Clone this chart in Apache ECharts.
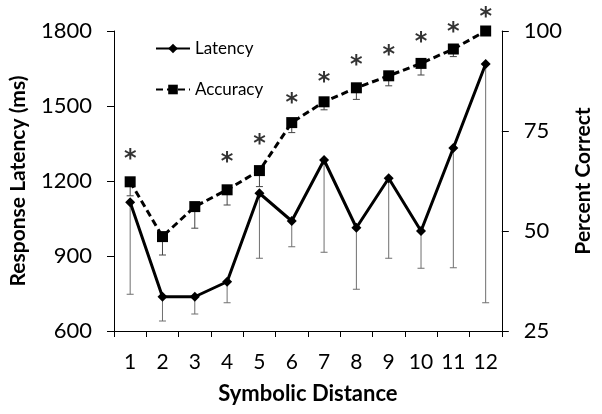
<!DOCTYPE html>
<html>
<head>
<meta charset="utf-8">
<script src="https://cdn.jsdelivr.net/npm/echarts@6/dist/echarts.min.js"></script>
<style>
html,body{margin:0;padding:0;background:#fff;}
#chart{width:602px;height:414px;}
</style>
</head>
<body>
<div id="chart"></div>
<script>
const categories = ['1','2','3','4','5','6','7','8','9','10','11','12'];
const latency = [1115, 737, 737, 797, 1151, 1040, 1284, 1013, 1211, 1000, 1332, 1668];
const latencyLow = [747, 640, 668, 713, 891, 937, 915, 767, 891, 851, 853, 713];
const accuracy = [62.3, 48.6, 56.1, 60.3, 65.1, 77.1, 82.3, 85.8, 88.8, 91.9, 95.5, 100];
const accuracyLow = [58.8, 44.0, 50.7, 56.5, 61.1, 74.6, 80.3, 82.9, 86.3, 89.0, 93.6, 100];
const asteriskAt = [69.8, null, null, 69.0, 73.5, 83.8, 89.0, 93.3, 95.8, 99.0, 101.5, 105.3];
const latencyTicks = [600, 1800, 300];
const accuracyTicks = [25, 100, 25];

const FONT = 'Lato';

function errorBarSeries(name, vals, lows, axisIndex, color) {
  return {
    name: name,
    type: 'custom',
    yAxisIndex: axisIndex,
    z: 1,
    silent: true,
    data: vals.map((v, i) => [i, v, lows[i]]),
    renderItem: function (params, api) {
      const top = api.coord([api.value(0), api.value(1)]);
      const bot = api.coord([api.value(0), api.value(2)]);
      if (Math.abs(top[1] - bot[1]) < 1) return null;
      const style = { stroke: color, lineWidth: 1 };
      return {
        type: 'group',
        children: [
          { type: 'line', shape: { x1: top[0], y1: top[1], x2: bot[0], y2: bot[1] }, style: style },
          { type: 'line', shape: { x1: bot[0] - 3.5, y1: bot[1], x2: bot[0] + 3.5, y2: bot[1] }, style: style }
        ]
      };
    }
  };
}

const chart = echarts.init(document.getElementById('chart'), null, { renderer: 'canvas' });
chart.setOption({
  animation: false,
  backgroundColor: '#fff',
  textStyle: { fontFamily: FONT },
  grid: { left: 110, right: 72, top: 31, bottom: 83 },
  legend: {
    left: 150, top: 35, orient: 'vertical', itemWidth: 34, itemHeight: 12, itemGap: 24,
    textStyle: { fontFamily: FONT, fontSize: 17, color: '#000' },
    data: ['Latency', 'Accuracy']
  },
  xAxis: {
    type: 'category',
    data: categories,
    boundaryGap: true,
    axisLine: { lineStyle: { color: '#000', width: 1 } },
    axisTick: { show: true, inside: false, length: 6, lineStyle: { color: '#000' } },
    axisLabel: { fontFamily: FONT, fontSize: 21, color: '#000', margin: 21 },
    name: 'Symbolic Distance',
    nameLocation: 'middle',
    nameGap: 52,
    nameTextStyle: { fontFamily: FONT, fontSize: 22, fontWeight: 'bold', color: '#000' }
  },
  yAxis: [
    {
      type: 'value',
      min: latencyTicks[0], max: latencyTicks[1], interval: latencyTicks[2],
      splitLine: { show: false },
      axisLine: { show: true, lineStyle: { color: '#000', width: 1 } },
      axisTick: { show: true, length: 7, lineStyle: { color: '#000' } },
      axisLabel: { fontFamily: FONT, fontSize: 22, color: '#000', margin: 22, formatter: v => String(v) },
      name: 'Response Latency (ms)',
      nameLocation: 'middle',
      nameRotate: 90,
      nameGap: 85,
      nameTextStyle: { fontFamily: FONT, fontSize: 21, fontWeight: 'bold', color: '#000' }
    },
    {
      type: 'value',
      position: 'right',
      min: accuracyTicks[0], max: accuracyTicks[1], interval: accuracyTicks[2],
      splitLine: { show: false },
      axisLine: { show: true, lineStyle: { color: '#000', width: 1 } },
      axisTick: { show: true, length: 7, lineStyle: { color: '#000' } },
      axisLabel: { fontFamily: FONT, fontSize: 22, color: '#000', margin: 22, formatter: v => String(v) },
      name: 'Percent Correct',
      nameLocation: 'middle',
      nameRotate: 90,
      nameGap: 50,
      nameTextStyle: { fontFamily: FONT, fontSize: 21, fontWeight: 'bold', color: '#000' }
    }
  ],
  series: [
    errorBarSeries('latErr', latency, latencyLow, 0, '#6f6f6f'),
    errorBarSeries('accErr', accuracy, accuracyLow, 1, '#444444'),
    {
      name: 'Latency',
      type: 'line',
      yAxisIndex: 0,
      z: 3,
      data: latency,
      symbol: 'diamond',
      symbolSize: 10,
      itemStyle: { color: '#000' },
      lineStyle: { color: '#000', width: 3 }
    },
    {
      name: 'Accuracy',
      type: 'line',
      yAxisIndex: 1,
      z: 3,
      data: accuracy,
      symbol: 'rect',
      symbolSize: 11,
      itemStyle: { color: '#000' },
      lineStyle: { color: '#000', width: 3, type: [7, 4] }
    },
    {
      name: 'sig',
      type: 'scatter',
      yAxisIndex: 1,
      clip: false,
      silent: true,
      symbolSize: 1,
      itemStyle: { color: 'rgba(0,0,0,0)' },
      data: asteriskAt.map((v, i) => v == null ? null : [i, v]),
      label: {
        show: true, position: 'inside', formatter: '*',
        fontFamily: 'DejaVu Sans', fontWeight: 'bold', fontSize: 24, color: '#000', offset: [0, 8]
      }
    }
  ]
});
</script>
</body>
</html>
